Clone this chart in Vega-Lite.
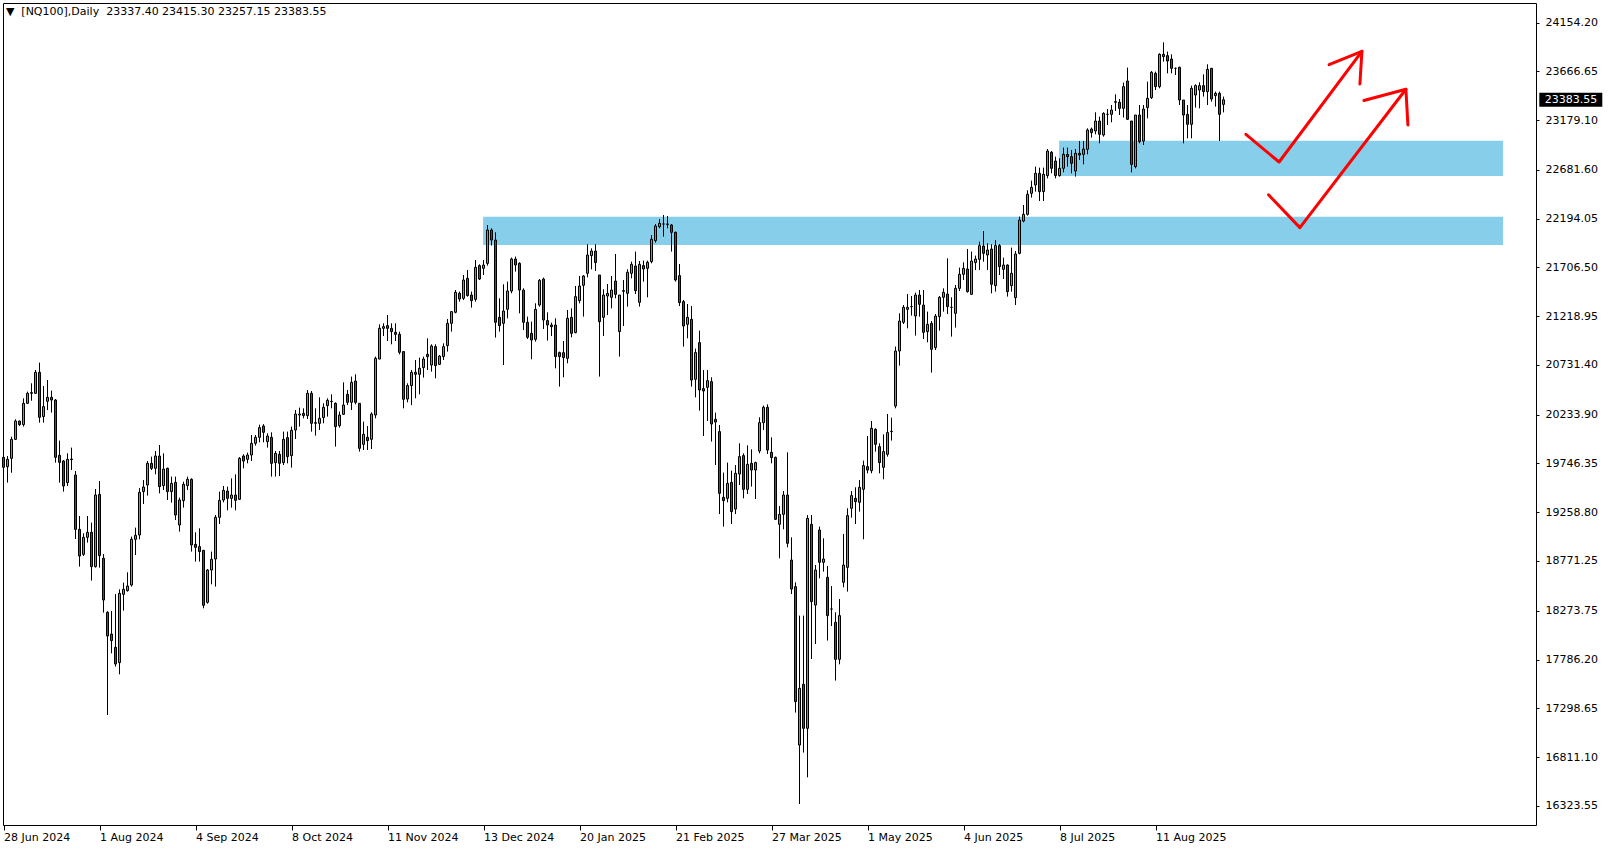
{
"$schema":"https://vega.github.io/schema/vega-lite/v6.json",
"width":1533,"height":822,
"autosize":{"type":"none"},
"padding":{"left":3,"top":3,"right":72,"bottom":25},
"background":"white",
"config":{"view":{"stroke":"black","strokeWidth":1},"font":"DejaVu Sans"},
"datasets":{
"header":[{"text":"▼\u00a0\u00a0[NQ100],Daily\u00a0\u00a023337.40 23415.30 23257.15 23383.55"}],
"zones":[{"i0":263.9,"i1":374.9,"p0":22621,"p1":22974},{"i0":119.9,"i1":374.9,"p0":21931,"p1":22214}],
"arrows":[
{"seg":"a1","k":0,"i":310.6,"p":23038},{"seg":"a1","k":1,"i":318.9,"p":22761},{"seg":"a1","k":2,"i":339.6,"p":23868},
{"seg":"h1","k":0,"i":331.4,"p":23735},{"seg":"h1","k":1,"i":339.6,"p":23868},{"seg":"h1","k":2,"i":339.1,"p":23541},
{"seg":"a2","k":0,"i":316.25,"p":22433},{"seg":"a2","k":1,"i":324.1,"p":22105},{"seg":"a2","k":2,"i":350.6,"p":23489},
{"seg":"h2","k":0,"i":340.1,"p":23376},{"seg":"h2","k":1,"i":350.6,"p":23489},{"seg":"h2","k":2,"i":351.1,"p":23131}],
"last":[{"price":23383.55,"label":"23383.55"}],
"candles":[
{"i":0,"o":19808,"h":20014,"l":19654,"c":19708},
{"i":1,"o":19714,"h":19821,"l":19555,"c":19788},
{"i":2,"o":19798,"h":20014,"l":19654,"c":19988},
{"i":3,"o":19988,"h":20188,"l":19981,"c":20171},
{"i":4,"o":20171,"h":20175,"l":20121,"c":20135},
{"i":5,"o":20135,"h":20398,"l":20115,"c":20348},
{"i":6,"o":20348,"h":20465,"l":20341,"c":20448},
{"i":7,"o":20448,"h":20548,"l":20374,"c":20455},
{"i":8,"o":20448,"h":20681,"l":20441,"c":20658},
{"i":9,"o":20658,"h":20755,"l":20155,"c":20208},
{"i":10,"o":20215,"h":20521,"l":20155,"c":20315},
{"i":11,"o":20368,"h":20581,"l":20281,"c":20408},
{"i":12,"o":20408,"h":20475,"l":20255,"c":20381},
{"i":13,"o":20381,"h":20391,"l":19755,"c":19808},
{"i":14,"o":19828,"h":19975,"l":19555,"c":19758},
{"i":15,"o":19771,"h":19781,"l":19465,"c":19521},
{"i":16,"o":19555,"h":19848,"l":19521,"c":19788},
{"i":17,"o":19791,"h":19905,"l":19681,"c":19785},
{"i":18,"o":19631,"h":19671,"l":18991,"c":19088},
{"i":19,"o":19088,"h":19221,"l":18715,"c":18821},
{"i":20,"o":18838,"h":19048,"l":18821,"c":19008},
{"i":21,"o":19008,"h":19221,"l":18955,"c":19058},
{"i":22,"o":19058,"h":19155,"l":18575,"c":18715},
{"i":23,"o":18715,"h":19491,"l":18705,"c":19431},
{"i":24,"o":19438,"h":19571,"l":18705,"c":18825},
{"i":25,"o":18798,"h":18841,"l":18255,"c":18381},
{"i":26,"o":18258,"h":18270,"l":17231,"c":18021},
{"i":27,"o":18041,"h":18271,"l":17848,"c":17975},
{"i":28,"o":17908,"h":18441,"l":17715,"c":17741},
{"i":29,"o":17755,"h":18488,"l":17638,"c":18448},
{"i":30,"o":18438,"h":18555,"l":18275,"c":18488},
{"i":31,"o":18475,"h":18658,"l":18465,"c":18521},
{"i":32,"o":18531,"h":19015,"l":18515,"c":18988},
{"i":33,"o":18988,"h":19105,"l":18831,"c":19028},
{"i":34,"o":19031,"h":19500,"l":18988,"c":19458},
{"i":35,"o":19465,"h":19581,"l":19341,"c":19511},
{"i":36,"o":19531,"h":19771,"l":19425,"c":19748},
{"i":37,"o":19748,"h":19815,"l":19681,"c":19698},
{"i":38,"o":19698,"h":19871,"l":19638,"c":19821},
{"i":39,"o":19821,"h":19931,"l":19448,"c":19515},
{"i":40,"o":19525,"h":19848,"l":19481,"c":19691},
{"i":41,"o":19698,"h":19705,"l":19381,"c":19465},
{"i":42,"o":19465,"h":19615,"l":19355,"c":19548},
{"i":43,"o":19558,"h":19615,"l":19181,"c":19231},
{"i":44,"o":19131,"h":19405,"l":19065,"c":19381},
{"i":45,"o":19375,"h":19565,"l":19305,"c":19538},
{"i":46,"o":19525,"h":19615,"l":19481,"c":19588},
{"i":47,"o":19588,"h":19598,"l":18865,"c":18931},
{"i":48,"o":18938,"h":19058,"l":18765,"c":18908},
{"i":49,"o":18915,"h":19098,"l":18765,"c":18865},
{"i":50,"o":18878,"h":18878,"l":18298,"c":18328},
{"i":51,"o":18358,"h":18691,"l":18345,"c":18681},
{"i":52,"o":18681,"h":18865,"l":18538,"c":18788},
{"i":53,"o":18791,"h":19231,"l":18515,"c":19208},
{"i":54,"o":19208,"h":19465,"l":19141,"c":19378},
{"i":55,"o":19381,"h":19521,"l":19358,"c":19478},
{"i":56,"o":19471,"h":19515,"l":19278,"c":19398},
{"i":57,"o":19398,"h":19598,"l":19305,"c":19431},
{"i":58,"o":19431,"h":19638,"l":19278,"c":19378},
{"i":59,"o":19388,"h":19811,"l":19381,"c":19798},
{"i":60,"o":19821,"h":19838,"l":19698,"c":19771},
{"i":61,"o":19788,"h":19855,"l":19748,"c":19831},
{"i":62,"o":19831,"h":20031,"l":19771,"c":19948},
{"i":63,"o":19948,"h":20031,"l":19925,"c":20008},
{"i":64,"o":20008,"h":20135,"l":19958,"c":20105},
{"i":65,"o":20121,"h":20140,"l":19958,"c":20058},
{"i":66,"o":19965,"h":20048,"l":19905,"c":20021},
{"i":67,"o":20008,"h":20058,"l":19615,"c":19748},
{"i":68,"o":19755,"h":19871,"l":19615,"c":19848},
{"i":69,"o":19838,"h":19871,"l":19621,"c":19748},
{"i":70,"o":19755,"h":20065,"l":19731,"c":19988},
{"i":71,"o":20005,"h":20065,"l":19748,"c":19815},
{"i":72,"o":19825,"h":20115,"l":19705,"c":20078},
{"i":73,"o":20081,"h":20281,"l":19991,"c":20241},
{"i":74,"o":20231,"h":20305,"l":20115,"c":20241},
{"i":75,"o":20248,"h":20298,"l":20198,"c":20225},
{"i":76,"o":20225,"h":20481,"l":20191,"c":20448},
{"i":77,"o":20448,"h":20471,"l":20065,"c":20148},
{"i":78,"o":20148,"h":20298,"l":20025,"c":20155},
{"i":79,"o":20148,"h":20408,"l":20081,"c":20198},
{"i":80,"o":20205,"h":20348,"l":20148,"c":20308},
{"i":81,"o":20325,"h":20398,"l":20215,"c":20378},
{"i":82,"o":20365,"h":20438,"l":20298,"c":20368},
{"i":83,"o":20348,"h":20358,"l":19915,"c":20115},
{"i":84,"o":20125,"h":20265,"l":20105,"c":20231},
{"i":85,"o":20238,"h":20558,"l":20231,"c":20331},
{"i":86,"o":20438,"h":20481,"l":20331,"c":20358},
{"i":87,"o":20358,"h":20615,"l":20281,"c":20558},
{"i":88,"o":20571,"h":20638,"l":20338,"c":20358},
{"i":89,"o":20348,"h":20348,"l":19865,"c":19898},
{"i":90,"o":19938,"h":20165,"l":19881,"c":20038},
{"i":91,"o":20008,"h":20121,"l":19881,"c":19975},
{"i":92,"o":19988,"h":20258,"l":19891,"c":20241},
{"i":93,"o":20231,"h":20815,"l":20198,"c":20798},
{"i":94,"o":20791,"h":21138,"l":20788,"c":21098},
{"i":95,"o":21098,"h":21148,"l":21021,"c":21115},
{"i":96,"o":21125,"h":21231,"l":20971,"c":21098},
{"i":97,"o":21098,"h":21148,"l":20938,"c":21065},
{"i":98,"o":21058,"h":21148,"l":20971,"c":21038},
{"i":99,"o":21038,"h":21065,"l":20838,"c":20858},
{"i":100,"o":20865,"h":20871,"l":20298,"c":20388},
{"i":101,"o":20391,"h":20548,"l":20358,"c":20525},
{"i":102,"o":20525,"h":20681,"l":20330,"c":20658},
{"i":103,"o":20658,"h":20781,"l":20398,"c":20638},
{"i":104,"o":20638,"h":20805,"l":20438,"c":20698},
{"i":105,"o":20705,"h":20815,"l":20605,"c":20791},
{"i":106,"o":20838,"h":20998,"l":20681,"c":20815},
{"i":107,"o":20731,"h":20938,"l":20665,"c":20921},
{"i":108,"o":20915,"h":20938,"l":20598,"c":20725},
{"i":109,"o":20738,"h":20831,"l":20731,"c":20821},
{"i":110,"o":20815,"h":20948,"l":20781,"c":20915},
{"i":111,"o":20925,"h":21191,"l":20865,"c":21148},
{"i":112,"o":21148,"h":21271,"l":21065,"c":21265},
{"i":113,"o":21258,"h":21481,"l":21248,"c":21458},
{"i":114,"o":21448,"h":21465,"l":21365,"c":21391},
{"i":115,"o":21398,"h":21631,"l":21381,"c":21581},
{"i":116,"o":21598,"h":21681,"l":21415,"c":21425},
{"i":117,"o":21431,"h":21465,"l":21305,"c":21375},
{"i":118,"o":21388,"h":21781,"l":21365,"c":21708},
{"i":119,"o":21725,"h":21738,"l":21581,"c":21591},
{"i":120,"o":21698,"h":21781,"l":21631,"c":21731},
{"i":121,"o":21748,"h":22131,"l":21725,"c":22081},
{"i":122,"o":22081,"h":22098,"l":21925,"c":21981},
{"i":123,"o":21981,"h":22058,"l":21005,"c":21158},
{"i":124,"o":21208,"h":21398,"l":21065,"c":21125},
{"i":125,"o":21148,"h":21538,"l":20731,"c":21271},
{"i":126,"o":21288,"h":21565,"l":21198,"c":21471},
{"i":127,"o":21471,"h":21805,"l":21448,"c":21791},
{"i":128,"o":21791,"h":21815,"l":21665,"c":21731},
{"i":129,"o":21748,"h":21758,"l":21248,"c":21481},
{"i":130,"o":21481,"h":21498,"l":21081,"c":21158},
{"i":131,"o":21158,"h":21215,"l":20991,"c":21008},
{"i":132,"o":21048,"h":21165,"l":20788,"c":20981},
{"i":133,"o":20988,"h":21348,"l":20965,"c":21288},
{"i":134,"o":21331,"h":21591,"l":21315,"c":21578},
{"i":135,"o":21591,"h":21605,"l":21091,"c":21181},
{"i":136,"o":21175,"h":21258,"l":20975,"c":21131},
{"i":137,"o":21131,"h":21155,"l":21021,"c":21115},
{"i":138,"o":21131,"h":21198,"l":20698,"c":20815},
{"i":139,"o":20855,"h":20865,"l":20515,"c":20815},
{"i":140,"o":20855,"h":20971,"l":20608,"c":20805},
{"i":141,"o":20798,"h":21281,"l":20748,"c":21198},
{"i":142,"o":21208,"h":21298,"l":21008,"c":21048},
{"i":143,"o":21055,"h":21521,"l":21048,"c":21415},
{"i":144,"o":21375,"h":21621,"l":21348,"c":21521},
{"i":145,"o":21528,"h":21631,"l":21215,"c":21621},
{"i":146,"o":21648,"h":21938,"l":21608,"c":21831},
{"i":147,"o":21825,"h":21898,"l":21688,"c":21871},
{"i":148,"o":21871,"h":21938,"l":21671,"c":21755},
{"i":149,"o":21631,"h":21631,"l":20615,"c":21165},
{"i":150,"o":21208,"h":21488,"l":21021,"c":21431},
{"i":151,"o":21421,"h":21541,"l":21231,"c":21448},
{"i":152,"o":21408,"h":21621,"l":21298,"c":21481},
{"i":153,"o":21571,"h":21841,"l":21398,"c":21438},
{"i":154,"o":21065,"h":21431,"l":20815,"c":21431},
{"i":155,"o":21468,"h":21581,"l":21121,"c":21475},
{"i":156,"o":21448,"h":21688,"l":21315,"c":21658},
{"i":157,"o":21648,"h":21765,"l":21598,"c":21738},
{"i":158,"o":21721,"h":21865,"l":21441,"c":21475},
{"i":159,"o":21358,"h":21771,"l":21315,"c":21738},
{"i":160,"o":21725,"h":21775,"l":21565,"c":21691},
{"i":161,"o":21698,"h":21775,"l":21408,"c":21758},
{"i":162,"o":21765,"h":22031,"l":21748,"c":21988},
{"i":163,"o":21975,"h":22141,"l":21955,"c":22121},
{"i":164,"o":22115,"h":22191,"l":22098,"c":22148},
{"i":165,"o":22141,"h":22231,"l":22015,"c":22141},
{"i":166,"o":22141,"h":22221,"l":22098,"c":22138},
{"i":167,"o":22131,"h":22141,"l":21865,"c":22058},
{"i":168,"o":22058,"h":22065,"l":21565,"c":21581},
{"i":169,"o":21625,"h":21741,"l":21321,"c":21355},
{"i":170,"o":21365,"h":21381,"l":20915,"c":21121},
{"i":171,"o":21138,"h":21341,"l":20998,"c":21208},
{"i":172,"o":21188,"h":21321,"l":20515,"c":20581},
{"i":173,"o":20588,"h":20895,"l":20408,"c":20855},
{"i":174,"o":20955,"h":21075,"l":20275,"c":20481},
{"i":175,"o":20495,"h":20681,"l":20021,"c":20471},
{"i":176,"o":20508,"h":20681,"l":20171,"c":20575},
{"i":177,"o":20565,"h":20608,"l":19965,"c":20141},
{"i":178,"o":20188,"h":20255,"l":19731,"c":20161},
{"i":179,"o":20065,"h":20131,"l":19241,"c":19448},
{"i":180,"o":19408,"h":19655,"l":19115,"c":19375},
{"i":181,"o":19398,"h":19755,"l":19358,"c":19548},
{"i":182,"o":19558,"h":19675,"l":19141,"c":19265},
{"i":183,"o":19291,"h":19731,"l":19241,"c":19648},
{"i":184,"o":19641,"h":19948,"l":19531,"c":19815},
{"i":185,"o":19825,"h":19848,"l":19398,"c":19488},
{"i":186,"o":19488,"h":19928,"l":19441,"c":19738},
{"i":187,"o":19748,"h":19888,"l":19515,"c":19681},
{"i":188,"o":19681,"h":19765,"l":19391,"c":19755},
{"i":189,"o":19871,"h":20208,"l":19848,"c":20155},
{"i":190,"o":20155,"h":20325,"l":20081,"c":20308},
{"i":191,"o":20308,"h":20338,"l":19841,"c":19881},
{"i":192,"o":19858,"h":20008,"l":19748,"c":19805},
{"i":193,"o":19808,"h":19815,"l":19181,"c":19188},
{"i":194,"o":19138,"h":19321,"l":18798,"c":19238},
{"i":195,"o":19238,"h":19471,"l":19088,"c":19431},
{"i":196,"o":19431,"h":19858,"l":18908,"c":18948},
{"i":197,"o":18781,"h":19008,"l":18441,"c":18491},
{"i":198,"o":18515,"h":18558,"l":17255,"c":17365},
{"i":199,"o":16931,"h":18225,"l":16341,"c":17498},
{"i":200,"o":17538,"h":18225,"l":16855,"c":17098},
{"i":201,"o":17098,"h":19231,"l":16608,"c":19198},
{"i":202,"o":19138,"h":19231,"l":17791,"c":18365},
{"i":203,"o":18331,"h":18731,"l":17941,"c":18681},
{"i":204,"o":19081,"h":19115,"l":18598,"c":18758},
{"i":205,"o":18758,"h":18998,"l":18665,"c":18791},
{"i":206,"o":18608,"h":18721,"l":17975,"c":18225},
{"i":207,"o":18291,"h":18521,"l":18121,"c":18291},
{"i":208,"o":18158,"h":18258,"l":17575,"c":17788},
{"i":209,"o":17788,"h":18391,"l":17738,"c":18225},
{"i":210,"o":18558,"h":19041,"l":18508,"c":18731},
{"i":211,"o":18708,"h":19298,"l":18465,"c":19225},
{"i":212,"o":19298,"h":19471,"l":19205,"c":19425},
{"i":213,"o":19398,"h":19508,"l":19141,"c":19365},
{"i":214,"o":19358,"h":19581,"l":19265,"c":19508},
{"i":215,"o":19488,"h":19775,"l":18988,"c":19725},
{"i":216,"o":19715,"h":20021,"l":19648,"c":19681},
{"i":217,"o":19675,"h":20171,"l":19648,"c":20098},
{"i":218,"o":20088,"h":20098,"l":19865,"c":19938},
{"i":219,"o":19915,"h":19948,"l":19648,"c":19755},
{"i":220,"o":19708,"h":20038,"l":19588,"c":19865},
{"i":221,"o":19838,"h":20241,"l":19815,"c":20055},
{"i":222,"o":20065,"h":20205,"l":19975,"c":20068},
{"i":223,"o":20321,"h":20915,"l":20298,"c":20871},
{"i":224,"o":20871,"h":21248,"l":20725,"c":21171},
{"i":225,"o":21158,"h":21331,"l":21141,"c":21308},
{"i":226,"o":21288,"h":21441,"l":21098,"c":21308},
{"i":227,"o":21315,"h":21421,"l":21225,"c":21315},
{"i":228,"o":21221,"h":21455,"l":21025,"c":21431},
{"i":229,"o":21431,"h":21481,"l":21215,"c":21338},
{"i":230,"o":21331,"h":21481,"l":20991,"c":21058},
{"i":231,"o":21065,"h":21265,"l":20958,"c":21138},
{"i":232,"o":21148,"h":21171,"l":20655,"c":20888},
{"i":233,"o":20905,"h":21241,"l":20881,"c":21221},
{"i":234,"o":21215,"h":21421,"l":21075,"c":21408},
{"i":235,"o":21408,"h":21498,"l":21265,"c":21458},
{"i":236,"o":21441,"h":21798,"l":21241,"c":21315},
{"i":237,"o":21308,"h":21408,"l":21015,"c":21308},
{"i":238,"o":21248,"h":21531,"l":21105,"c":21498},
{"i":239,"o":21498,"h":21705,"l":21471,"c":21638},
{"i":240,"o":21638,"h":21758,"l":21581,"c":21698},
{"i":241,"o":21691,"h":21891,"l":21455,"c":21465},
{"i":242,"o":21438,"h":21865,"l":21431,"c":21771},
{"i":243,"o":21755,"h":21825,"l":21681,"c":21791},
{"i":244,"o":21788,"h":21965,"l":21681,"c":21925},
{"i":245,"o":21921,"h":22071,"l":21765,"c":21848},
{"i":246,"o":21831,"h":21948,"l":21681,"c":21881},
{"i":247,"o":21891,"h":21938,"l":21448,"c":21538},
{"i":248,"o":21525,"h":21981,"l":21465,"c":21925},
{"i":249,"o":21925,"h":21941,"l":21631,"c":21715},
{"i":250,"o":21688,"h":21805,"l":21591,"c":21731},
{"i":251,"o":21731,"h":21738,"l":21415,"c":21465},
{"i":252,"o":21525,"h":21905,"l":21465,"c":21648},
{"i":253,"o":21405,"h":21871,"l":21331,"c":21841},
{"i":254,"o":21848,"h":22215,"l":21838,"c":22181},
{"i":255,"o":22171,"h":22331,"l":22158,"c":22238},
{"i":256,"o":22238,"h":22478,"l":22225,"c":22438},
{"i":257,"o":22448,"h":22575,"l":22405,"c":22508},
{"i":258,"o":22531,"h":22715,"l":22465,"c":22648},
{"i":259,"o":22648,"h":22705,"l":22371,"c":22465},
{"i":260,"o":22465,"h":22705,"l":22371,"c":22638},
{"i":261,"o":22625,"h":22891,"l":22598,"c":22871},
{"i":262,"o":22858,"h":22871,"l":22648,"c":22698},
{"i":263,"o":22771,"h":22815,"l":22598,"c":22625},
{"i":264,"o":22625,"h":22798,"l":22615,"c":22698},
{"i":265,"o":22698,"h":22905,"l":22658,"c":22838},
{"i":266,"o":22838,"h":22905,"l":22715,"c":22815},
{"i":267,"o":22815,"h":22881,"l":22648,"c":22748},
{"i":268,"o":22671,"h":22891,"l":22615,"c":22848},
{"i":269,"o":22848,"h":22971,"l":22781,"c":22831},
{"i":270,"o":22838,"h":22971,"l":22738,"c":22891},
{"i":271,"o":22888,"h":23098,"l":22838,"c":23081},
{"i":272,"o":23091,"h":23105,"l":23005,"c":23055},
{"i":273,"o":23071,"h":23258,"l":23038,"c":23171},
{"i":274,"o":23171,"h":23215,"l":22948,"c":23038},
{"i":275,"o":23031,"h":23258,"l":23015,"c":23248},
{"i":276,"o":23238,"h":23291,"l":23131,"c":23238},
{"i":277,"o":23238,"h":23331,"l":23158,"c":23281},
{"i":278,"o":23358,"h":23438,"l":23271,"c":23365},
{"i":279,"o":23358,"h":23391,"l":23231,"c":23298},
{"i":280,"o":23298,"h":23555,"l":23205,"c":23515},
{"i":281,"o":23571,"h":23705,"l":23181,"c":23188},
{"i":282,"o":23171,"h":23171,"l":22658,"c":22738},
{"i":283,"o":22715,"h":23231,"l":22698,"c":23231},
{"i":284,"o":23231,"h":23331,"l":22948,"c":22965},
{"i":285,"o":22971,"h":23331,"l":22931,"c":23291},
{"i":286,"o":23305,"h":23565,"l":23198,"c":23398},
{"i":287,"o":23405,"h":23671,"l":23391,"c":23658},
{"i":288,"o":23648,"h":23665,"l":23481,"c":23515},
{"i":289,"o":23515,"h":23848,"l":23498,"c":23838},
{"i":290,"o":23838,"h":23958,"l":23765,"c":23815},
{"i":291,"o":23825,"h":23865,"l":23648,"c":23771},
{"i":292,"o":23791,"h":23838,"l":23648,"c":23698},
{"i":293,"o":23698,"h":23705,"l":23631,"c":23698},
{"i":294,"o":23708,"h":23715,"l":23331,"c":23381},
{"i":295,"o":23381,"h":23381,"l":22948,"c":23231},
{"i":296,"o":23238,"h":23331,"l":22998,"c":23138},
{"i":297,"o":23138,"h":23525,"l":22998,"c":23498},
{"i":298,"o":23431,"h":23538,"l":23305,"c":23525},
{"i":299,"o":23481,"h":23558,"l":23298,"c":23525},
{"i":300,"o":23525,"h":23638,"l":23415,"c":23465},
{"i":301,"o":23465,"h":23738,"l":23331,"c":23688},
{"i":302,"o":23698,"h":23698,"l":23365,"c":23391},
{"i":303,"o":23425,"h":23465,"l":23315,"c":23448},
{"i":304,"o":23448,"h":23465,"l":22971,"c":23238},
{"i":305,"o":23337.4,"h":23415.3,"l":23257.15,"c":23383.55}
]},
"encoding":{
"x":{"type":"quantitative","scale":{"domain":[-0.125,383.125],"nice":false,"zero":false,"padding":0},
 "axis":{"values":[0,24,48,72,96,120,144,168,192,216,240,264,288],
 "labelExpr":"['28 Jun 2024','1 Aug 2024','4 Sep 2024','8 Oct 2024','11 Nov 2024','13 Dec 2024','20 Jan 2025','21 Feb 2025','27 Mar 2025','1 May 2025','4 Jun 2025','8 Jul 2025','11 Aug 2025'][round(datum.value/24)]",
 "labelAlign":"left","labelFont":"DejaVu Sans","labelFontSize":11,"labelColor":"black","tickColor":"black","tickSize":5,"labelPadding":1,"domain":false,"grid":false,"title":null,"labelFlush":false,"labelOverlap":false,"labelBound":false}},
"y":{"type":"quantitative","scale":{"domain":[16131.2,24351.2],"nice":false,"zero":false,"padding":0},
 "axis":{"orient":"right","values":[24154.2,23666.65,23179.1,22681.6,22194.05,21706.5,21218.95,20731.4,20233.9,19746.35,19258.8,18771.25,18273.75,17786.2,17298.65,16811.1,16323.55],
 "format":".2f","labelFont":"DejaVu Sans","labelFontSize":11,"labelColor":"black","tickColor":"black","tickSize":3,"labelPadding":6,"domain":false,"grid":false,"title":null,"labelFlush":false,"labelOverlap":false,"labelBound":false}}
},
"layer":[
{"data":{"name":"zones"},"mark":{"type":"rect","color":"#87CEEB"},
 "encoding":{"x":{"field":"i0","type":"quantitative"},"x2":{"field":"i1"},"y":{"field":"p0","type":"quantitative"},"y2":{"field":"p1"}}},
{"data":{"name":"candles"},"mark":{"type":"rule","color":"black","strokeWidth":1},
 "encoding":{"x":{"field":"i","type":"quantitative"},"y":{"field":"l","type":"quantitative"},"y2":{"field":"h"}}},
{"data":{"name":"candles"},"mark":{"type":"bar","size":2,"stroke":"black","strokeWidth":1},
 "encoding":{"x":{"field":"i","type":"quantitative"},"y":{"field":"o","type":"quantitative"},"y2":{"field":"c"},
 "fill":{"condition":{"test":"datum.c < datum.o","value":"#DC1414"},"value":"#28D228"}}},
{"data":{"name":"arrows"},"mark":{"type":"line","color":"#FF0000","strokeWidth":3,"strokeCap":"round","strokeJoin":"round"},
 "encoding":{"x":{"field":"i","type":"quantitative"},"y":{"field":"p","type":"quantitative"},"detail":{"field":"seg"},"order":{"field":"k"}}},
{"data":{"name":"last"},"mark":{"type":"rect","color":"black","height":14},
 "encoding":{"x":{"datum":383.95},"x2":{"datum":399.7},"y":{"field":"price","type":"quantitative"}}},
{"data":{"name":"last"},"mark":{"type":"text","color":"white","align":"left","baseline":"middle","fontSize":11,"font":"DejaVu Sans"},
 "encoding":{"x":{"datum":385.3},"y":{"field":"price","type":"quantitative"},"text":{"field":"label"}}},
{"data":{"name":"header"},"mark":{"type":"text","color":"black","align":"left","baseline":"middle","fontSize":11,"font":"DejaVu Sans"},
 "encoding":{"x":{"datum":0.6},"y":{"datum":24258},"text":{"field":"text"}}}
]
}
